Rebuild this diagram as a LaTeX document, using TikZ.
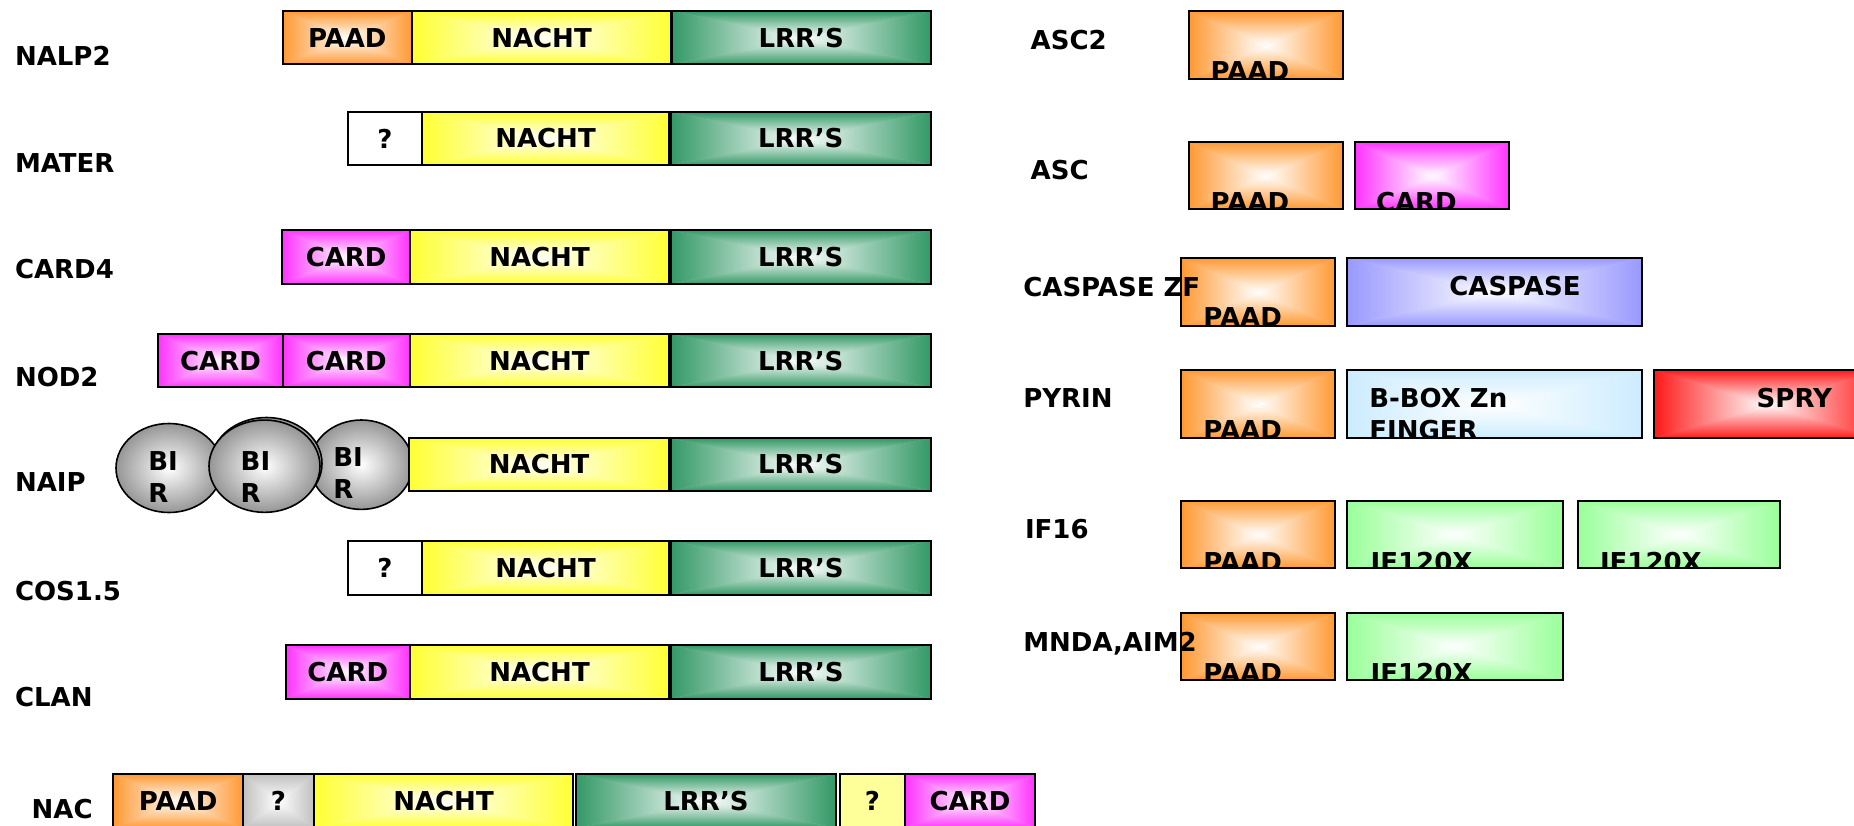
\documentclass[tikz,border=0pt]{standalone}
\usepackage{fontspec}
\setmainfont{DejaVu Sans}
\usetikzlibrary{shapes.geometric}
\definecolor{cPAAD}{RGB}{255,153,51}
\definecolor{cNACHT}{RGB}{255,255,51}
\definecolor{cLRR}{RGB}{51,153,102}
\definecolor{cCARD}{RGB}{255,51,255}
\definecolor{cGREY}{RGB}{192,192,192}
\definecolor{cPALE}{RGB}{255,255,153}
\definecolor{cCASP}{RGB}{153,153,255}
\definecolor{cBBOX}{RGB}{204,236,255}
\definecolor{cSPRY}{RGB}{255,26,26}
\definecolor{cIF}{RGB}{153,255,153}
\definecolor{cBIR}{RGB}{150,150,150}
\newcommand{\rgrad}[1]{%
  \path (path picture bounding box.north west) coordinate (gA)
        (path picture bounding box.north east) coordinate (gB)
        (path picture bounding box.south east) coordinate (gC)
        (path picture bounding box.south west) coordinate (gD)
        (path picture bounding box.center) coordinate (gO);
  \fill[#1!55!white] (gA) rectangle (gC);
  \begin{scope}\clip (gA)--(gB)--(gO)--cycle;
    \shade[top color=#1,bottom color=white] (gA) rectangle (gO -| gB);\end{scope}
  \begin{scope}\clip (gB)--(gC)--(gO)--cycle;
    \shade[left color=white,right color=#1] (gO |- gB) rectangle (gC);\end{scope}
  \begin{scope}\clip (gC)--(gD)--(gO)--cycle;
    \shade[top color=white,bottom color=#1] (gO -| gD) rectangle (gC);\end{scope}
  \begin{scope}\clip (gD)--(gA)--(gO)--cycle;
    \shade[left color=#1,right color=white] (gA) rectangle (gO |- gD);\end{scope}
}
\tikzset{
  txt/.style={font=\fontsize{26}{32}\selectfont\bfseries, inner sep=0pt, outer sep=0pt},
  dom/.style={txt, draw=black, line width=2pt, anchor=north west, path picture={\rgrad{#1}}},
  plainbox/.style={txt, draw=black, line width=2pt, anchor=north west, fill=#1},
  lab/.style={txt, anchor=base west},
  bir/.style={ellipse, draw=black, line width=1.6pt, inner color=white, outer color=cBIR, inner sep=0pt},
}
\newcommand{\dbox}[7]{\node[#6, minimum width={(#4-#2)*1pt}, minimum height={(#5-#3)*1pt}] (#1) at (#2,#3) {#7};}
\newcommand{\ctext}[5]{\begin{scope}\clip (#1.north west) rectangle (#1.south east);
  \node[lab] (#2) at (#3,#4) {#5};\end{scope}}
\begin{document}
\begin{tikzpicture}[x=1pt,y=-1pt]
\useasboundingbox (0,0) rectangle (1854,826);
\clip (0,0) rectangle (1854,826);
% NALP2
\dbox{nalpPaad}{282.5}{11}{412}{64.5}{dom=cPAAD}{PAAD}
\dbox{nalpNacht}{412}{11}{671}{64.5}{dom=cNACHT}{NACHT}
\dbox{nalpLrr}{672}{11}{930.5}{64.5}{dom=cLRR}{LRR’S}
% MATER
\dbox{matQ}{347.7}{112}{422}{165}{plainbox=white}{?}
\dbox{matNacht}{422}{112}{669}{165}{dom=cNACHT}{NACHT}
\dbox{matLrr}{671}{112}{930.5}{165}{dom=cLRR}{LRR’S}
% CARD4
\dbox{c4Card}{282.3}{230}{410}{284}{dom=cCARD}{CARD}
\dbox{c4Nacht}{410}{230}{669}{284}{dom=cNACHT}{NACHT}
\dbox{c4Lrr}{671}{230}{930.5}{284}{dom=cLRR}{LRR’S}
% NOD2
\dbox{nodCardA}{158.3}{334}{282.7}{387.3}{dom=cCARD}{CARD}
\dbox{nodCardB}{282.7}{334}{409.7}{387.3}{dom=cCARD}{CARD}
\dbox{nodNacht}{409.7}{334}{669}{387.3}{dom=cNACHT}{NACHT}
\dbox{nodLrr}{671}{334}{930.5}{387.3}{dom=cLRR}{LRR’S}
% NAIP
\node[bir, minimum width=106pt, minimum height=89pt] (birA) at (169,468) {};
\node[bir, minimum width=102.6pt, minimum height=89.4pt] (birC) at (361.3,464.7) {};
\node[bir, minimum width=111pt, minimum height=92pt] (birBb) at (266.5,463.5) {};
\node[bir, minimum width=111pt, minimum height=92.3pt] (birB) at (264.5,466.2) {};
\node[lab] (birAt) at (148.3,470) {BI};
\node[lab] (birAr) at (148.3,502) {R};
\node[lab] (birBt) at (240.7,470) {BI};
\node[lab] (birBr) at (240.7,502) {R};
\node[lab] (birCt) at (333.3,466) {BI};
\node[lab] (birCr) at (333.3,498.3) {R};
\dbox{naipNacht}{409.3}{438.3}{669}{490.7}{dom=cNACHT}{NACHT}
\dbox{naipLrr}{671}{438.3}{930.5}{490.7}{dom=cLRR}{LRR’S}
% COS1.5
\dbox{cosQ}{347.7}{540.7}{422}{594.7}{plainbox=white}{?}
\dbox{cosNacht}{422}{540.7}{669}{594.7}{dom=cNACHT}{NACHT}
\dbox{cosLrr}{671}{540.7}{931}{594.7}{dom=cLRR}{LRR’S}
% CLAN
\dbox{clanCard}{285.7}{645.3}{409.7}{698.5}{dom=cCARD}{CARD}
\dbox{clanNacht}{409.7}{645.3}{669.3}{698.5}{dom=cNACHT}{NACHT}
\dbox{clanLrr}{671}{645.3}{931}{698.5}{dom=cLRR}{LRR’S}
% NAC
\dbox{nacPaad}{113.3}{774}{243}{828}{dom=cPAAD}{PAAD}
\dbox{nacQa}{243}{774}{313.7}{828}{dom=cGREY}{?}
\dbox{nacNacht}{313.7}{774}{573.3}{828}{dom=cNACHT}{NACHT}
\dbox{nacLrr}{576}{774}{836}{828}{dom=cLRR}{LRR’S}
\dbox{nacQb}{840}{774}{905}{828}{plainbox=cPALE}{?}
\dbox{nacCard}{905}{774}{1035}{828}{dom=cCARD}{CARD}
% right column
\dbox{asc2Paad}{1188.7}{11}{1342.7}{79}{dom=cPAAD}{}
\ctext{asc2Paad}{asc2PaadT}{1210.7}{80.5}{PAAD}
\dbox{ascPaad}{1188.7}{142}{1342.7}{209.3}{dom=cPAAD}{}
\ctext{ascPaad}{ascPaadT}{1210.7}{211.2}{PAAD}
\dbox{ascCard}{1354.7}{142}{1509.3}{209.3}{dom=cCARD}{}
\ctext{ascCard}{ascCardT}{1376}{211.2}{CARD}
\dbox{czfPaad}{1181.3}{258}{1335}{325.5}{dom=cPAAD}{}
\ctext{czfPaad}{czfPaadT}{1203.3}{326.8}{PAAD}
\dbox{czfCasp}{1347.3}{258}{1642.3}{325.5}{dom=cCASP}{}
\ctext{czfCasp}{czfCaspT}{1449.3}{295.5}{CASPASE}
\dbox{pyrPaad}{1181.3}{370}{1335}{438.3}{dom=cPAAD}{}
\ctext{pyrPaad}{pyrPaadT}{1203.3}{439.5}{PAAD}
\dbox{pyrBbox}{1347.3}{370}{1642.3}{438.3}{dom=cBBOX}{}
\ctext{pyrBbox}{pyrBboxT}{1369.3}{407.8}{B-BOX Zn}
\ctext{pyrBbox}{pyrBboxU}{1369.3}{439.5}{FINGER}
\dbox{pyrSpry}{1654}{370}{1880}{438.3}{dom=cSPRY}{}
\ctext{pyrSpry}{pyrSpryT}{1756.7}{407.8}{SPRY}
\dbox{ifPaad}{1181.3}{500.5}{1335}{568.3}{dom=cPAAD}{}
\ctext{ifPaad}{ifPaadT}{1203.3}{571.2}{PAAD}
\dbox{ifXa}{1347.3}{500.5}{1562.7}{568.3}{dom=cIF}{}
\ctext{ifXa}{ifXaT}{1370.7}{571.2}{IF120X}
\dbox{ifXb}{1577.7}{500.5}{1780}{568.3}{dom=cIF}{}
\ctext{ifXb}{ifXbT}{1600}{571.2}{IF120X}
\dbox{mnPaad}{1181.3}{612.7}{1335}{680}{dom=cPAAD}{}
\ctext{mnPaad}{mnPaadT}{1203.3}{682.8}{PAAD}
\dbox{mnX}{1347.3}{612.7}{1562.7}{680}{dom=cIF}{}
\ctext{mnX}{mnXT}{1370.7}{682.8}{IF120X}
% labels
\node[lab] (lNALP) at (15,65.7) {NALP2};
\node[lab] (lMATER) at (15,172.3) {MATER};
\node[lab] (lCARD) at (15,278) {CARD4};
\node[lab] (lNOD) at (15,386) {NOD2};
\node[lab] (lNAIP) at (15,491.7) {NAIP};
\node[lab] (lCOS) at (15,600) {COS1.5};
\node[lab] (lCLAN) at (15,706) {CLAN};
\node[lab] (lNAC) at (31.7,818.3) {NAC};
\node[lab] (lASC2) at (1030.7,49.3) {ASC2};
\node[lab] (lASC) at (1030.7,180) {ASC};
\node[lab] (lCZF) at (1023.3,296) {CASPASE ZF};
\node[lab] (lPYR) at (1023.3,407.3) {PYRIN};
\node[lab] (lIF) at (1025,538.3) {IF16};
\node[lab] (lMN) at (1023.3,651) {MNDA,AIM2};
\end{tikzpicture}
\end{document}
